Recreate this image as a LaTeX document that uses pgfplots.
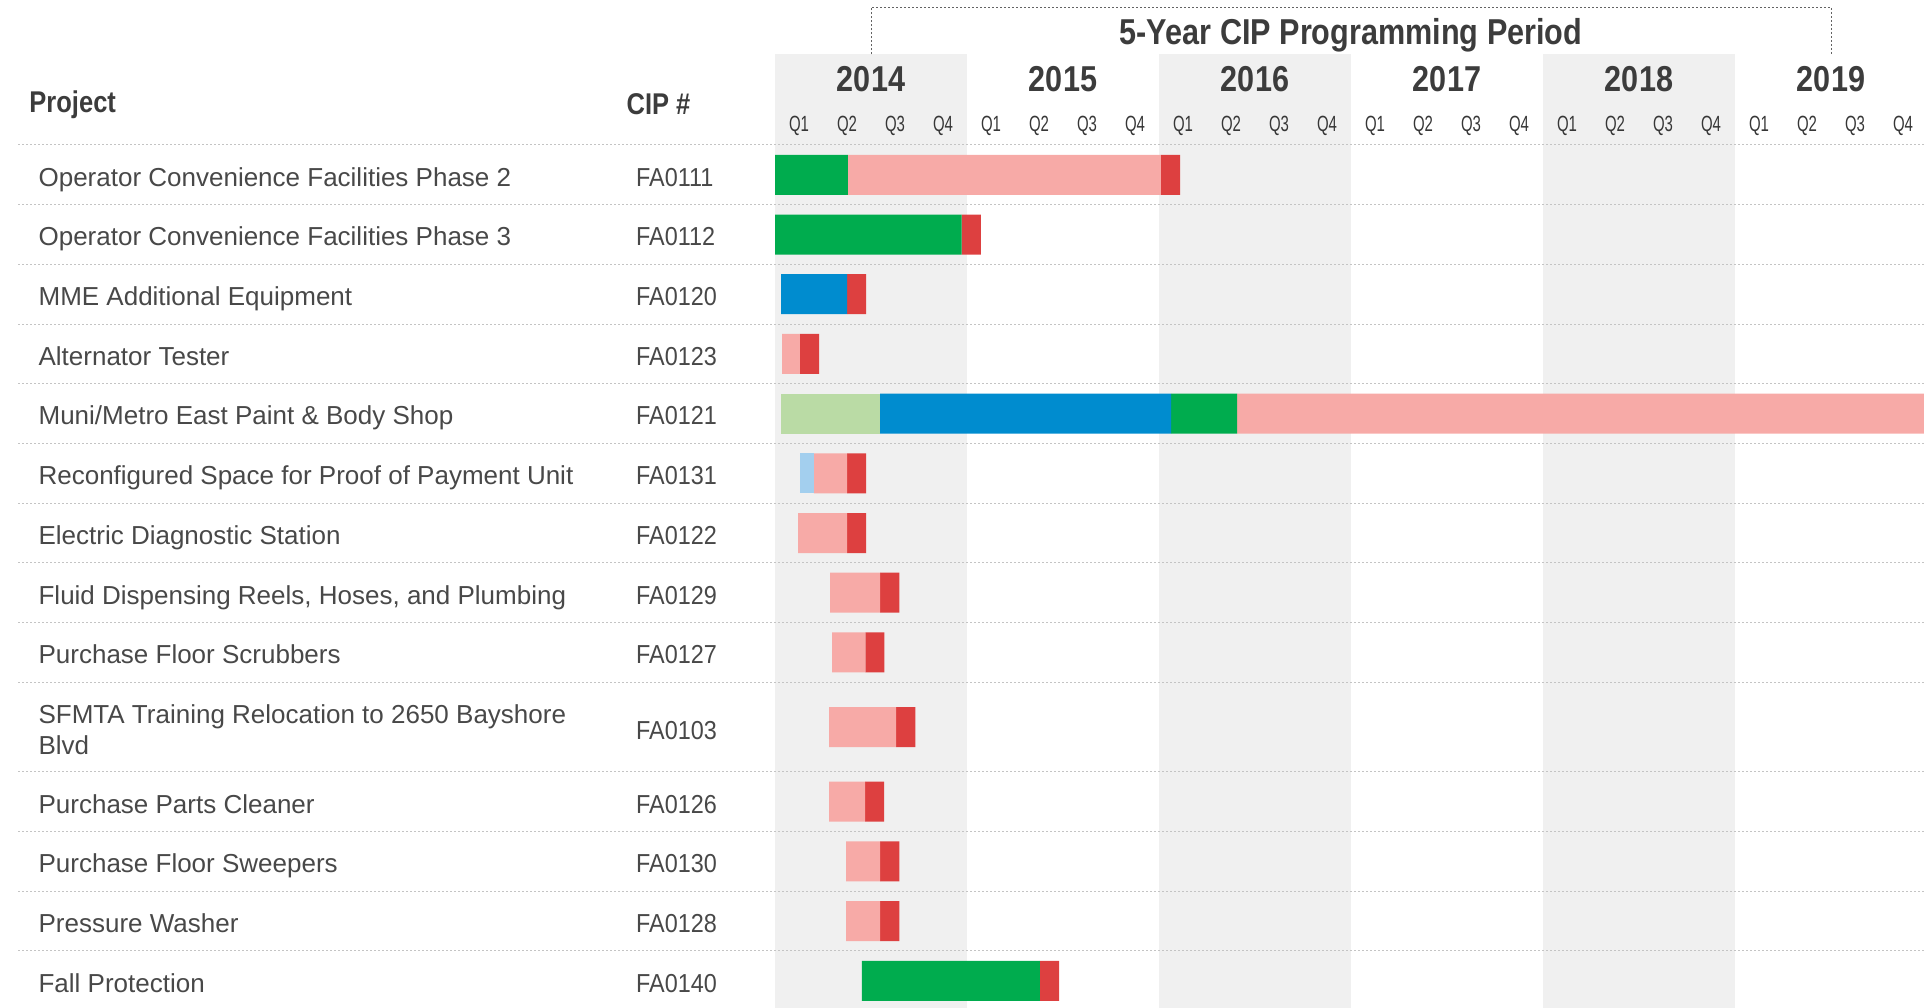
\documentclass[border=0pt]{standalone}
\usepackage{fontspec}
\setmainfont{Liberation Sans}
\newfontfamily\headfont[FakeStretch=0.85]{Liberation Sans}
\newfontfamily\qfont[FakeStretch=0.68]{Liberation Sans}
\newfontfamily\cipfont[FakeStretch=0.9]{Liberation Sans}
\usepackage{pgfplots}
\usepackage{pgfplotstable}
\pgfplotsset{compat=1.18}

\definecolor{cgreen}{HTML}{00AC4E}
\definecolor{clgreen}{HTML}{BADBA5}
\definecolor{cblue}{HTML}{008CCF}
\definecolor{clblue}{HTML}{A3CFEE}
\definecolor{cpink}{HTML}{F7AAA7}
\definecolor{cred}{HTML}{DD4040}
\definecolor{bandgray}{HTML}{F0F0F0}
\definecolor{txt}{HTML}{3C3C3C}
\definecolor{nametxt}{HTML}{484848}
\definecolor{rulegray}{HTML}{C4C4C4}

\tikzset{
  pname/.style={anchor=base west, inner sep=0pt, text=nametxt, font=\fontsize{13}{15.5}\selectfont},
  cip/.style={anchor=base west, inner sep=0pt, text=nametxt, font=\cipfont\fontsize{13}{15}\selectfont},
  year/.style={text=txt, font=\headfont\bfseries\fontsize{18}{20}\selectfont},
  qtr/.style={text=txt!90!black, font=\qfont\fontsize{11}{13}\selectfont},
  colhead/.style={anchor=west, inner sep=0pt, text=txt, font=\headfont\bfseries\fontsize{15}{17}\selectfont},
}
\pgfplotsset{
  frame/.style={
    width=962pt, height=504pt, scale only axis,
    xmin=-16.146, xmax=23.9375,
    ymin=-2.429, ymax=14.456, y dir=reverse,
    hide axis,
  },
}

% x in quarters from 2014 Q1, y = row position
\pgfplotstableread{
y    off   lgreen lblue blue  green pink  red
0.5  0     0      0     0     1.52  6.52  0.40
1.5  0     0      0     0     3.89  0     0.40
2.5  0.125 0      0     1.375 0     0     0.40
3.5  0.15  0      0     0     0     0.37  0.40
4.5  0.125 2.065  0     6.06  1.375 14.5  0
5.5  0.52  0      0.29  0     0     0.69  0.40
6.5  0.48  0      0     0     0     1.02  0.40
7.5  1.15  0      0     0     0     1.04  0.40
8.5  1.19  0      0     0     0     0.69  0.40
9.75 1.125 0      0     0     0     1.40  0.40
11   1.125 0      0     0     0     0.75  0.40
12   1.48  0      0     0     0     0.71  0.40
13   1.48  0      0     0     0     0.71  0.40
14   1.81  0      0     0     3.71  0     0.40
}\gantt

\begin{document}
\begin{tikzpicture}
% background: shaded years
\begin{axis}[frame]
\fill[bandgray] (axis cs:0,-1.52) rectangle (axis cs:4,14.5);
\fill[bandgray] (axis cs:8,-1.52) rectangle (axis cs:12,14.5);
\fill[bandgray] (axis cs:16,-1.52) rectangle (axis cs:20,14.5);
\coordinate (bl) at (rel axis cs:0,0);
\coordinate (tr) at (rel axis cs:1,1);
\end{axis}

\begin{axis}[frame,
    xbar stacked, bar width=0.67,
    every axis plot/.append style={draw=none},
]
% row rules
\pgfplotsinvokeforeach{0,1,2,3,4,5,6,7,8,9,10.5,11.5,12.5,13.5}{
  \draw[rulegray, line width=0.5pt, dash pattern=on 1pt off 1pt] (axis cs:-15.77,#1) -- (axis cs:23.94,#1);
}

% bars
\addplot[fill=none] table[x=off, y=y] {\gantt};
\addplot[fill=clgreen] table[x=lgreen, y=y] {\gantt};
\addplot[fill=clblue] table[x=lblue, y=y] {\gantt};
\addplot[fill=cblue] table[x=blue, y=y] {\gantt};
\addplot[fill=cgreen] table[x=green, y=y] {\gantt};
\addplot[fill=cpink] table[x=pink, y=y] {\gantt};
\addplot[fill=cred] table[x=red, y=y] {\gantt};

% header
\draw[txt!80, line width=0.5pt, dash pattern=on 1pt off 1pt] (axis cs:2,-1.52) |- (axis cs:22,-2.31) -- (axis cs:22,-1.52);
\node[year] at (axis cs:12,-1.83) {5-Year CIP Programming Period};
\node[year] at (axis cs:2,-1.105) {2014};
\node[year] at (axis cs:6,-1.105) {2015};
\node[year] at (axis cs:10,-1.105) {2016};
\node[year] at (axis cs:14,-1.105) {2017};
\node[year] at (axis cs:18,-1.105) {2018};
\node[year] at (axis cs:22,-1.105) {2019};
\pgfplotsinvokeforeach{0,4,8,12,16,20}{
  \node[qtr] at (axis cs:#1+0.5,-0.32) {Q1};
  \node[qtr] at (axis cs:#1+1.5,-0.32) {Q2};
  \node[qtr] at (axis cs:#1+2.5,-0.32) {Q3};
  \node[qtr] at (axis cs:#1+3.5,-0.32) {Q4};
}
\node[colhead] at (axis cs:-15.54,-0.68) {Project};
\node[colhead] at (axis cs:-3.10,-0.68) {CIP \#};

% project names
\node[pname] at (axis cs:-15.35,0.69) {Operator Convenience Facilities Phase 2};
\node[pname] at (axis cs:-15.35,1.69) {Operator Convenience Facilities Phase 3};
\node[pname] at (axis cs:-15.35,2.69) {MME Additional Equipment};
\node[pname] at (axis cs:-15.35,3.69) {Alternator Tester};
\node[pname] at (axis cs:-15.35,4.69) {Muni/Metro East Paint \& Body Shop};
\node[pname] at (axis cs:-15.35,5.69) {Reconfigured Space for Proof of Payment Unit};
\node[pname] at (axis cs:-15.35,6.69) {Electric Diagnostic Station};
\node[pname] at (axis cs:-15.35,7.69) {Fluid Dispensing Reels, Hoses, and Plumbing};
\node[pname] at (axis cs:-15.35,8.69) {Purchase Floor Scrubbers};
\node[pname] at (axis cs:-15.35,9.69) {SFMTA Training Relocation to 2650 Bayshore};
\node[pname] at (axis cs:-15.35,10.21) {Blvd};
\node[pname] at (axis cs:-15.35,11.19) {Purchase Parts Cleaner};
\node[pname] at (axis cs:-15.35,12.19) {Purchase Floor Sweepers};
\node[pname] at (axis cs:-15.35,13.19) {Pressure Washer};
\node[pname] at (axis cs:-15.35,14.19) {Fall Protection};

% CIP numbers
\node[cip] at (axis cs:-2.9,0.69) {FA0111};
\node[cip] at (axis cs:-2.9,1.69) {FA0112};
\node[cip] at (axis cs:-2.9,2.69) {FA0120};
\node[cip] at (axis cs:-2.9,3.69) {FA0123};
\node[cip] at (axis cs:-2.9,4.69) {FA0121};
\node[cip] at (axis cs:-2.9,5.69) {FA0131};
\node[cip] at (axis cs:-2.9,6.69) {FA0122};
\node[cip] at (axis cs:-2.9,7.69) {FA0129};
\node[cip] at (axis cs:-2.9,8.69) {FA0127};
\node[cip] at (axis cs:-2.9,9.96) {FA0103};
\node[cip] at (axis cs:-2.9,11.19) {FA0126};
\node[cip] at (axis cs:-2.9,12.19) {FA0130};
\node[cip] at (axis cs:-2.9,13.19) {FA0128};
\node[cip] at (axis cs:-2.9,14.19) {FA0140};
\end{axis}
\pgfresetboundingbox
\path[use as bounding box] (bl) rectangle (tr);
\end{tikzpicture}
\end{document}
